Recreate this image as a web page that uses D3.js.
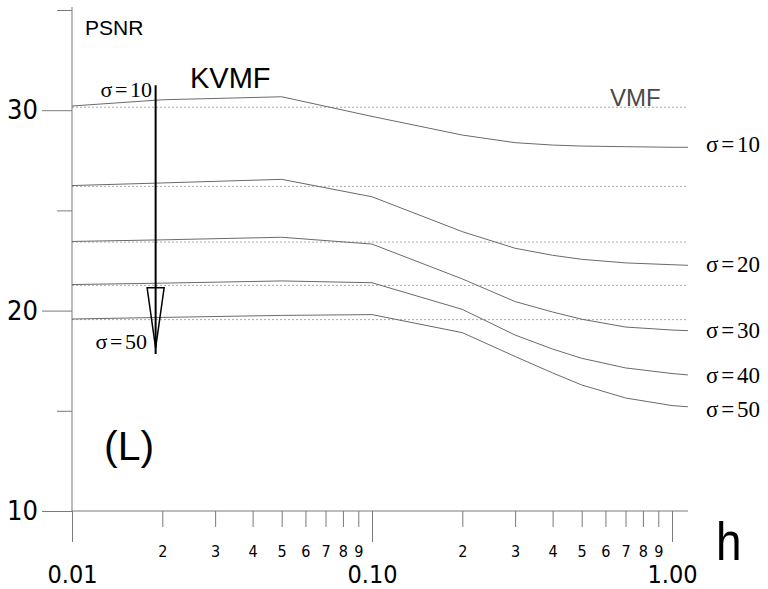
<!DOCTYPE html>
<html><head><meta charset="utf-8">
<script src="https://cdn.jsdelivr.net/npm/d3@7"></script>
<style>
html,body{margin:0;padding:0;background:#fff;}
svg{display:block;}
</style></head>
<body>
<script>
// ---- data ----
const hValues = [0.01, 0.02, 0.05, 0.1, 0.2, 0.3, 0.4, 0.5, 0.7, 1.0, 1.13];
const sigmaValues = ["10", "20", "30", "40", "50"];
const psnr10 = [30.21, 30.52, 30.67, 29.69, 28.76, 28.38, 28.26, 28.21, 28.18, 28.15, 28.15];
const psnr20 = [26.24, 26.37, 26.55, 25.68, 23.94, 23.11, 22.76, 22.56, 22.38, 22.29, 22.26];
const psnr30 = [23.45, 23.53, 23.66, 23.32, 21.58, 20.45, 19.93, 19.57, 19.18, 19.03, 19.00];
const psnr40 = [21.30, 21.37, 21.48, 21.39, 20.06, 18.78, 18.08, 17.62, 17.14, 16.86, 16.79];
const psnr50 = [19.58, 19.66, 19.76, 19.80, 18.90, 17.71, 16.89, 16.29, 15.64, 15.26, 15.20];
const kvmfLevels = [30.15, 26.20, 23.42, 21.26, 19.55];
const xMajorTicks = [0.01, 0.1, 1];
const xMajorLabels = ["0.01", "0.10", "1.00"];
const xMinorTicks = [0.02,0.03,0.04,0.05,0.06,0.07,0.08,0.09,0.2,0.3,0.4,0.5,0.6,0.7,0.8,0.9];
const yMajorTicks = [10, 20, 30];
const yMinorTicks = [15, 25, 35];
// arrow annotation (h, PSNR)
const arrowH = 0.019, arrowTop = 31.25, arrowHeadTop = 21.14, arrowTip = 17.93;

const series = [psnr10, psnr20, psnr30, psnr40, psnr50];

const W = 768, H = 589;
const svg = d3.select("body").append("svg").attr("width", W).attr("height", H);

const x = d3.scaleLog().domain([0.01, 1]).range([72, 672]);
const y = d3.scaleLinear().domain([10, 35]).range([511, 10]);
const axisColor = "#7a7a7a";
const tickFont = "'DejaVu Sans Condensed','DejaVu Sans',sans-serif";

// dotted KVMF level lines
svg.append("g").selectAll("line").data(kvmfLevels).join("line")
  .attr("x1", x(0.01)).attr("x2", x(1.13))
  .attr("y1", d => y(d)).attr("y2", d => y(d))
  .attr("stroke", "#a8a8a8").attr("stroke-width", 1).attr("stroke-dasharray", "2,2");

// axes
const gxMinor = svg.append("g").attr("transform", `translate(0,${y(10)})`)
  .call(d3.axisBottom(x).tickValues(xMinorTicks).tickSize(16).tickPadding(19)
    .tickFormat(d => String(Math.round(d / Math.pow(10, Math.floor(Math.log10(d) + 1e-9))))));
gxMinor.select(".domain").remove();
gxMinor.selectAll("line").attr("stroke", axisColor);
gxMinor.selectAll("text").attr("font-family", tickFont).attr("font-size", 16).attr("fill", "#000");

const gxMajor = svg.append("g").attr("transform", `translate(0,${y(10)})`)
  .call(d3.axisBottom(x).tickValues(xMajorTicks).tickSize(31).tickPadding(23)
    .tickFormat((d, i) => xMajorLabels[i]));
gxMajor.select(".domain").remove();
gxMajor.selectAll("line").attr("stroke", axisColor);
gxMajor.selectAll("text").attr("font-family", tickFont).attr("font-size", 25).attr("fill", "#000");

const gyMinor = svg.append("g").attr("transform", `translate(${x(0.01)},0)`)
  .call(d3.axisLeft(y).tickValues(yMinorTicks).tickSize(15).tickFormat(""));
gyMinor.select(".domain").remove();
gyMinor.selectAll("line").attr("stroke", axisColor);

const gyMajor = svg.append("g").attr("transform", `translate(${x(0.01)},0)`)
  .call(d3.axisLeft(y).tickValues(yMajorTicks).tickSize(30).tickPadding(4));
gyMajor.select(".domain").remove();
gyMajor.selectAll("line").attr("stroke", axisColor);
gyMajor.selectAll("text").attr("font-family", tickFont).attr("font-size", 27).attr("fill", "#000");

// axis lines
svg.append("line").attr("x1", x(0.01)).attr("x2", x(0.01)).attr("y1", y(35) - 3).attr("y2", y(10))
  .attr("stroke", axisColor);
svg.append("line").attr("x1", x(0.01)).attr("x2", x(1.13)).attr("y1", y(10)).attr("y2", y(10))
  .attr("stroke", axisColor);

// curves
const line = d3.line().x((d, i) => x(hValues[i])).y(d => y(d));
svg.append("g").selectAll("path").data(series).join("path")
  .attr("d", d => line(d)).attr("fill", "none").attr("stroke", "#6a6a6a").attr("stroke-width", 1);

// sigma label helper (σ = value, math-like spacing)
const serif = "'Liberation Serif','DejaVu Serif',serif";
function sigmaLabel(sel, val, size) {
  sel.attr("font-family", serif).attr("font-size", size);
  sel.append("tspan").text("σ");
  sel.append("tspan").attr("dx", size * 0.12).text("=");
  sel.append("tspan").attr("dx", size * 0.12).text(val);
}

// right-hand sigma labels
const labelOffsets = [-1, 1, 1, 2, 4];
series.forEach((s, i) => {
  const t = svg.append("text").attr("x", 706).attr("y", y(s[s.length - 1]) + 6 + labelOffsets[i]);
  sigmaLabel(t, sigmaValues[i], 23);
});

// left labels
const tl1 = svg.append("text").attr("x", 152).attr("y", 97).attr("text-anchor", "end");
sigmaLabel(tl1, sigmaValues[0], 22);
const tl5 = svg.append("text").attr("x", 147).attr("y", 349).attr("text-anchor", "end");
sigmaLabel(tl5, sigmaValues[4], 22);

// arrow
const ax = x(arrowH);
svg.append("line").attr("x1", ax).attr("x2", ax).attr("y1", y(arrowTop)).attr("y2", y(arrowTip) + 2)
  .attr("stroke", "#000").attr("stroke-width", 2);
svg.append("path")
  .attr("d", `M${ax - 8.5},${y(arrowHeadTop)} L${ax + 8.5},${y(arrowHeadTop)} L${ax},${y(arrowTip) - 4} Z`)
  .attr("fill", "none").attr("stroke", "#000").attr("stroke-width", 1.5);

// titles
const sans = "'Liberation Sans',Arial,sans-serif";
svg.append("text").attr("x", 85).attr("y", 35).attr("font-family", sans).attr("font-size", 21).text("PSNR");
svg.append("text").attr("x", 190).attr("y", 88).attr("font-family", sans).attr("font-size", 29).text("KVMF");
svg.append("text").attr("x", 610).attr("y", 106).attr("font-family", sans).attr("font-size", 24)
  .attr("fill", "#4a4a4a").text("VMF");
svg.append("text").attr("x", 104).attr("y", 460).attr("font-family", sans).attr("font-size", 41).text("(L)");
svg.append("text").attr("transform", "translate(716,560) scale(0.85,1)")
  .attr("font-family", sans).attr("font-size", 54).text("h");
</script>
</body></html>
